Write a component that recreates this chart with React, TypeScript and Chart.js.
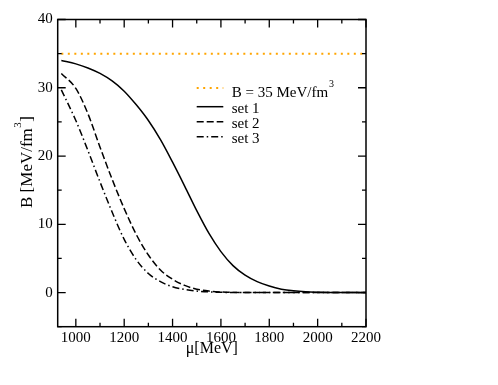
import React, { useEffect, useRef } from "react";
import { Chart, registerables } from "chart.js";

Chart.register(...registerables);

const FONT = '"Liberation Serif", "Times New Roman", serif';

// x grid (MeV)
const muValues = [940, 1000, 1050, 1100, 1150, 1200, 1250, 1300, 1350, 1400, 1450, 1500, 1550, 1600, 1650, 1700, 1750, 1800, 1850, 1900, 1950, 2000, 2050, 2100, 2150, 2200];
const set1 = [34.0, 33.5, 32.9, 32.1, 31.0, 29.5, 27.5, 25.2, 22.4, 19.1, 15.6, 12.0, 8.7, 6.0, 3.95, 2.55, 1.6, 0.95, 0.5, 0.25, 0.11, 0.05, 0.02, 0.01, 0, 0];
const set2 = [32.1, 29.9, 26.2, 21.3, 16.6, 12.3, 8.5, 5.5, 3.3, 1.95, 1.05, 0.5, 0.22, 0.09, 0.03, 0.01, 0, 0, 0, 0, 0, 0, 0, 0, 0, 0];
const set3 = [29.7, 25.2, 20.8, 16.2, 11.8, 7.8, 4.8, 2.8, 1.6, 0.85, 0.45, 0.22, 0.1, 0.04, 0.01, 0, 0, 0, 0, 0, 0, 0, 0, 0, 0, 0];
const bagMu = [940, 2200];
const bagValue = [35, 35];

const xMin = 925;
const xMax = 2200;
const yMin = -5;
const yMax = 40;
const xMajorTicks = [1000, 1200, 1400, 1600, 1800, 2000, 2200];
const xMinorTicks = [1100, 1300, 1500, 1700, 1900, 2100];
const yMajorTicks = [0, 10, 20, 30, 40];
const yMinorTicks = [-5, 5, 15, 25, 35];

const legendLabels = ["B = 35 MeV/fm", "set 1", "set 2", "set 3"];

const toPts = (xs: number[], ys: number[]) => xs.map((x, i) => ({ x, y: ys[i] }));

const decorPlugin = {
  id: "decor",
  afterDatasetsDraw(chart: any) {
    const ctx = chart.ctx;
    const { left, right, top, bottom } = chart.chartArea;
    const xs = chart.scales.x;
    const ys = chart.scales.y;
    ctx.save();
    ctx.strokeStyle = "#000";
    ctx.lineWidth = 1.3;
    ctx.setLineDash([]);
    const tick = (px: number, len: number, horiz: boolean) => {
      ctx.beginPath();
      if (horiz) {
        ctx.moveTo(px, bottom);
        ctx.lineTo(px, bottom - len);
        ctx.moveTo(px, top);
        ctx.lineTo(px, top + len);
      } else {
        ctx.moveTo(left, px);
        ctx.lineTo(left + len, px);
        ctx.moveTo(right, px);
        ctx.lineTo(right - len, px);
      }
      ctx.stroke();
    };
    xMajorTicks.forEach((v) => tick(xs.getPixelForValue(v), 8, true));
    xMinorTicks.forEach((v) => tick(xs.getPixelForValue(v), 4, true));
    yMajorTicks.forEach((v) => tick(ys.getPixelForValue(v), 8, false));
    yMinorTicks.forEach((v) => tick(ys.getPixelForValue(v), 4, false));
    ctx.lineWidth = 1.5;
    ctx.strokeRect(left, top, right - left, bottom - top);

    // legend
    const lx0 = left + 139;
    const lx1 = left + 165.6;
    const tx = left + 174;
    const rows = [
      { ly: top + 68.5, by: top + 77.5 },
      { ly: top + 87.2, by: top + 93.2 },
      { ly: top + 102.2, by: top + 108.2 },
      { ly: top + 117.2, by: top + 123.2 },
    ];
    const dsets = chart.data.datasets;
    const order = [3, 0, 1, 2];
    rows.forEach((r, i) => {
      const ds = dsets[order[i]];
      ctx.beginPath();
      ctx.strokeStyle = ds.borderColor;
      ctx.lineWidth = ds.borderWidth;
      ctx.setLineDash(ds.borderDash || []);
      ctx.moveTo(lx0, r.ly);
      ctx.lineTo(lx1, r.ly);
      ctx.stroke();
      ctx.setLineDash([]);
      ctx.fillStyle = "#000";
      ctx.font = `15px ${FONT}`;
      ctx.textBaseline = "alphabetic";
      ctx.textAlign = "left";
      ctx.fillText(legendLabels[i], tx, r.by);
      if (i === 0) {
        const w = ctx.measureText(legendLabels[i]).width;
        ctx.font = `10px ${FONT}`;
        ctx.fillText("3", tx + w + 1, r.by - 10);
      }
    });

    // y title
    ctx.save();
    ctx.translate(32, 162);
    ctx.rotate(-Math.PI / 2);
    ctx.fillStyle = "#000";
    ctx.textBaseline = "alphabetic";
    ctx.textAlign = "left";
    ctx.font = `17px ${FONT}`;
    const p1 = "B [MeV/fm";
    const p3 = "]";
    const w1 = ctx.measureText(p1).width;
    const w3 = ctx.measureText(p3).width;
    ctx.font = `11px ${FONT}`;
    const w2 = ctx.measureText("3").width;
    const total = w1 + w2 + 1 + w3;
    const x0 = -total / 2;
    ctx.font = `17px ${FONT}`;
    ctx.fillText(p1, x0, 0);
    ctx.font = `11px ${FONT}`;
    ctx.fillText("3", x0 + w1 + 0.5, -11);
    ctx.font = `17px ${FONT}`;
    ctx.fillText(p3, x0 + w1 + w2 + 1, 0);
    ctx.restore();

    ctx.restore();
  },
};

export default function App() {
  const ref = useRef<HTMLCanvasElement>(null);
  useEffect(() => {
    if (!ref.current) return;
    const chart = new Chart(ref.current, {
      type: "line",
      data: {
        datasets: [
          {
            label: "set 1",
            data: toPts(muValues, set1),
            borderColor: "#000",
            borderWidth: 1.5,
            pointRadius: 0,
            cubicInterpolationMode: "monotone",
            fill: false,
          },
          {
            label: "set 2",
            data: toPts(muValues, set2),
            borderColor: "#000",
            borderWidth: 1.5,
            borderDash: [7, 3],
            pointRadius: 0,
            cubicInterpolationMode: "monotone",
            fill: false,
          },
          {
            label: "set 3",
            data: toPts(muValues, set3),
            borderColor: "#000",
            borderWidth: 1.5,
            borderDash: [7, 3, 1.5, 3],
            pointRadius: 0,
            cubicInterpolationMode: "monotone",
            fill: false,
          },
          {
            label: "B = 35 MeV/fm3",
            data: toPts(bagMu, bagValue),
            borderColor: "#FFA500",
            borderWidth: 2,
            borderDash: [2, 4.5],
            pointRadius: 0,
            fill: false,
          },
        ],
      },
      options: {
        animation: false,
        responsive: false,
        events: [],
        layout: { padding: { top: 19.5, right: 132, left: 0, bottom: 0 } },
        plugins: { legend: { display: false }, tooltip: { enabled: false } },
        scales: {
          x: {
            type: "linear",
            min: xMin,
            max: xMax,
            border: { display: false },
            grid: { display: false, drawTicks: false },
            ticks: {
              stepSize: 200,
              includeBounds: false,
              color: "#000",
              padding: 2,
              maxRotation: 0,
              autoSkip: false,
              font: { family: FONT, size: 15 },
              callback: (v: any) => String(v),
            },
            title: {
              display: true,
              text: "μ[MeV]",
              color: "#000",
              font: { family: FONT, size: 16 },
              padding: { top: 0, bottom: 27 },
            },
            afterFit: (s: any) => {
              s.height = 58.3;
            },
          },
          y: {
            type: "linear",
            min: yMin,
            max: yMax,
            border: { display: false },
            grid: { display: false, drawTicks: false },
            ticks: {
              stepSize: 10,
              includeBounds: false,
              color: "#000",
              padding: 5,
              font: { family: FONT, size: 15 },
              callback: (v: any) => String(v),
            },
            afterFit: (s: any) => {
              s.width = 57.7;
            },
          },
        },
      },
      plugins: [decorPlugin],
    } as any);
    return () => chart.destroy();
  }, []);
  return (
    <div style={{ position: "fixed", left: 0, top: 0, width: 498, height: 385, background: "#fff" }}>
      <canvas ref={ref} width={498} height={385} style={{ display: "block" }} />
    </div>
  );
}
